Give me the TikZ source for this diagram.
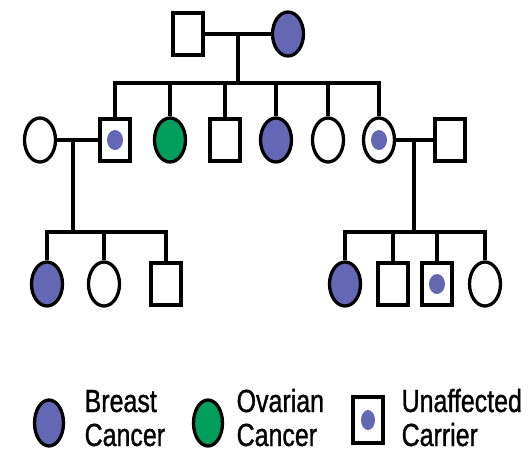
\documentclass[tikz,border=0pt]{standalone}
\usepackage{fontspec}
\usetikzlibrary{shapes.geometric}
\newfontfamily\legendfont[FakeStretch=0.78,FakeBold=1]{Liberation Sans}
\definecolor{bcblue}{RGB}{100,104,180}
\definecolor{ocgreen}{RGB}{0,158,92}
\begin{document}
\begin{tikzpicture}[x=1pt,y=-1pt,
  line width=3.3pt,
  female/.style={ellipse,draw=black,line width=3.3pt,minimum width=31pt,minimum height=44pt,inner sep=0pt},
  male/.style={rectangle,draw=black,line width=3.3pt,minimum width=30pt,minimum height=42pt,inner sep=0pt},
  bc/.style={fill=bcblue},
  oc/.style={fill=ocgreen},
  lgtext/.style={anchor=base west,inner sep=0pt,font=\legendfont\fontsize{32}{35}\selectfont}
]
\useasboundingbox (0,0) rectangle (532,453);
\fill[white] (0,0) rectangle (532,453);

% generation 1
\node[male] (m1) at (188,34) {};
\node[female,bc] (f1) at (288,34) {};
% generation 2
\node[female] (w1) at (40,140) {};
\node[male] (s1) at (115,140) {};
\node[female,oc] (s2) at (170,140) {};
\node[male] (s3) at (225,140) {};
\node[female,bc] (s4) at (276,140) {};
\node[female] (s5) at (328,140) {};
\node[female] (s6) at (379,140) {};
\node[male] (h6) at (450,140) {};
% generation 3 left
\node[female,bc] (c1) at (47,284) {};
\node[female] (c2) at (104,284) {};
\node[male] (c3) at (166,284) {};
% generation 3 right
\node[female,bc] (d1) at (345,284) {};
\node[male] (d2) at (393,284) {};
\node[male] (d3) at (437,284) {};
\node[female] (d4) at (485,284) {};

% carrier dots
\foreach \n in {s1,s6,d3} \fill[bcblue] (\n) ellipse (8 and 10);

% couple 1
\coordinate (mc1) at (238,34);
\coordinate (sb1) at (238,83);
\draw (m1.east) -- (f1.west);
\draw (mc1) -- (sb1);
\draw[line cap=rect] (s1.north |- sb1) -- (s6.north |- sb1);
\foreach \n in {s1,s2,s3,s4,s5,s6} \draw (\n.north) -- (\n.north |- sb1);

% couple 2 (left)
\coordinate (mc2) at (73,140);
\coordinate (sb2) at (73,232);
\draw (w1.east) -- (s1.west);
\draw (mc2) -- (sb2);
\draw[line cap=rect] (c1.north |- sb2) -- (c3.north |- sb2);
\foreach \n in {c1,c2,c3} \draw (\n.north) -- (\n.north |- sb2);

% couple 3 (right)
\coordinate (mc3) at (414,140);
\coordinate (sb3) at (414,232);
\draw (s6.east) -- (h6.west);
\draw (mc3) -- (sb3);
\draw[line cap=rect] (d1.north |- sb3) -- (d4.north |- sb3);
\foreach \n in {d1,d2,d3,d4} \draw (\n.north) -- (\n.north |- sb3);

% legend
\node[female,bc,minimum width=29pt,minimum height=46pt] (l1) at (49,423) {};
\node[lgtext] (l1a) at (83,412) {Breast};
\node[lgtext] (l1b) at (83,446) {Cancer};
\node[female,oc,minimum width=29pt,minimum height=46pt] (l2) at (208,423) {};
\node[lgtext] (l2a) at (235,412) {Ovarian};
\node[lgtext] (l2b) at (235,446) {Cancer};
\node[male,minimum width=30pt,minimum height=46pt] (l3) at (368,420) {};
\fill[bcblue] (l3) ellipse (7 and 10);
\node[lgtext] (l3a) at (400,412) {Unaffected};
\node[lgtext] (l3b) at (400,446) {Carrier};
\end{tikzpicture}
\end{document}
